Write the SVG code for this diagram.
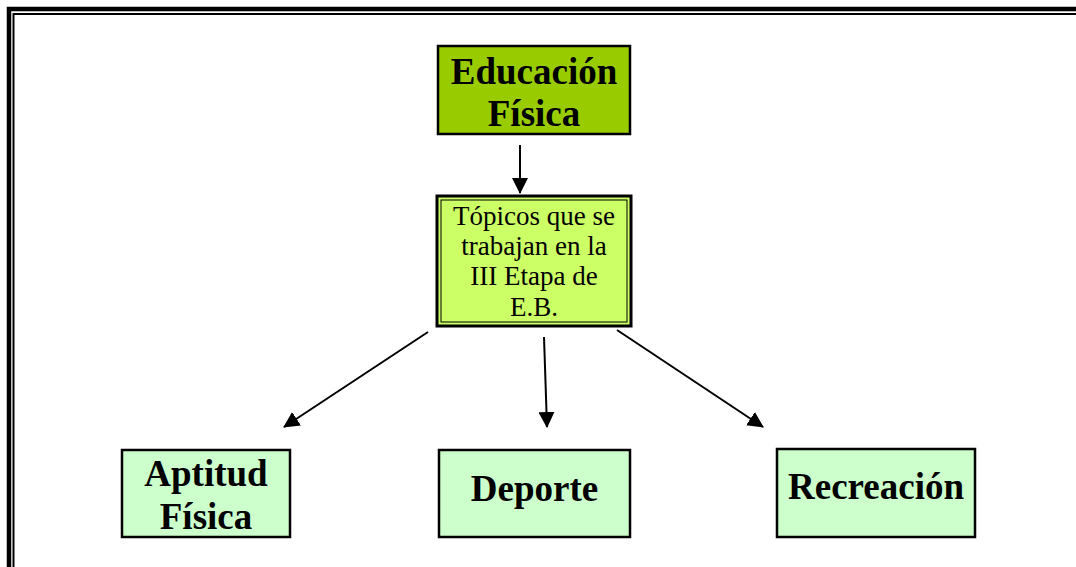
<svg xmlns="http://www.w3.org/2000/svg" width="1076" height="567" viewBox="0 0 1076 567">
<style>
.box{stroke:#000;stroke-width:2.5}
.big{font-family:"Liberation Serif","Times New Roman",serif;font-weight:bold;font-size:37px;text-anchor:middle;fill:#000}
.small{font-family:"Liberation Serif","Times New Roman",serif;font-size:27px;text-anchor:middle;fill:#000}
.conn{stroke:#000;stroke-width:2;fill:none}
</style>
<defs>
<marker id="ah" markerUnits="userSpaceOnUse" markerWidth="16" markerHeight="16" viewBox="0 0 16 16" refX="15" refY="8" orient="auto">
<path d="M0,0 L16,8 L0,16 Z" fill="#000"/>
</marker>
</defs>
<rect width="1076" height="567" fill="#fff"/>
<g id="frame">
<path d="M9,567 V9 H1076" fill="none" stroke="#000" stroke-width="4.5"/>
<path d="M13.5,567 V14 H1076" fill="none" stroke="#000" stroke-width="2"/>
</g>
<g id="connectors">
<line class="conn" x1="520" y1="145" x2="520" y2="193" marker-end="url(#ah)"/>
<line class="conn" x1="428" y1="332" x2="284" y2="427" marker-end="url(#ah)"/>
<line class="conn" x1="544" y1="337" x2="547" y2="427" marker-end="url(#ah)"/>
<line class="conn" x1="617" y1="330" x2="763" y2="427" marker-end="url(#ah)"/>
</g>
<g id="educacion-fisica">
<rect class="box" x="438" y="46" width="192" height="88" fill="#99cc00"/>
<text class="big" x="534" y="84">Educación</text>
<text class="big" x="534" y="126">Física</text>
</g>
<g id="topicos">
<rect x="437" y="196" width="194" height="130" fill="#ccff66" stroke="#000" stroke-width="3"/>
<rect x="441" y="200" width="186" height="122" fill="none" stroke="#000" stroke-width="1"/>
<text class="small" x="534" y="225">Tópicos que se</text>
<text class="small" x="534" y="255">trabajan en la</text>
<text class="small" x="534" y="285">III Etapa de</text>
<text class="small" x="534" y="316">E.B.</text>
</g>
<g id="aptitud-fisica">
<rect class="box" x="122" y="450" width="168" height="87" fill="#ccffcc"/>
<text class="big" x="206" y="486">Aptitud</text>
<text class="big" x="206" y="529">Física</text>
</g>
<g id="deporte">
<rect class="box" x="439" y="450" width="191" height="87" fill="#ccffcc"/>
<text class="big" x="534.5" y="501">Deporte</text>
</g>
<g id="recreacion">
<rect class="box" x="777" y="449" width="198" height="88" fill="#ccffcc"/>
<text class="big" x="876" y="499">Recreación</text>
</g>
</svg>
